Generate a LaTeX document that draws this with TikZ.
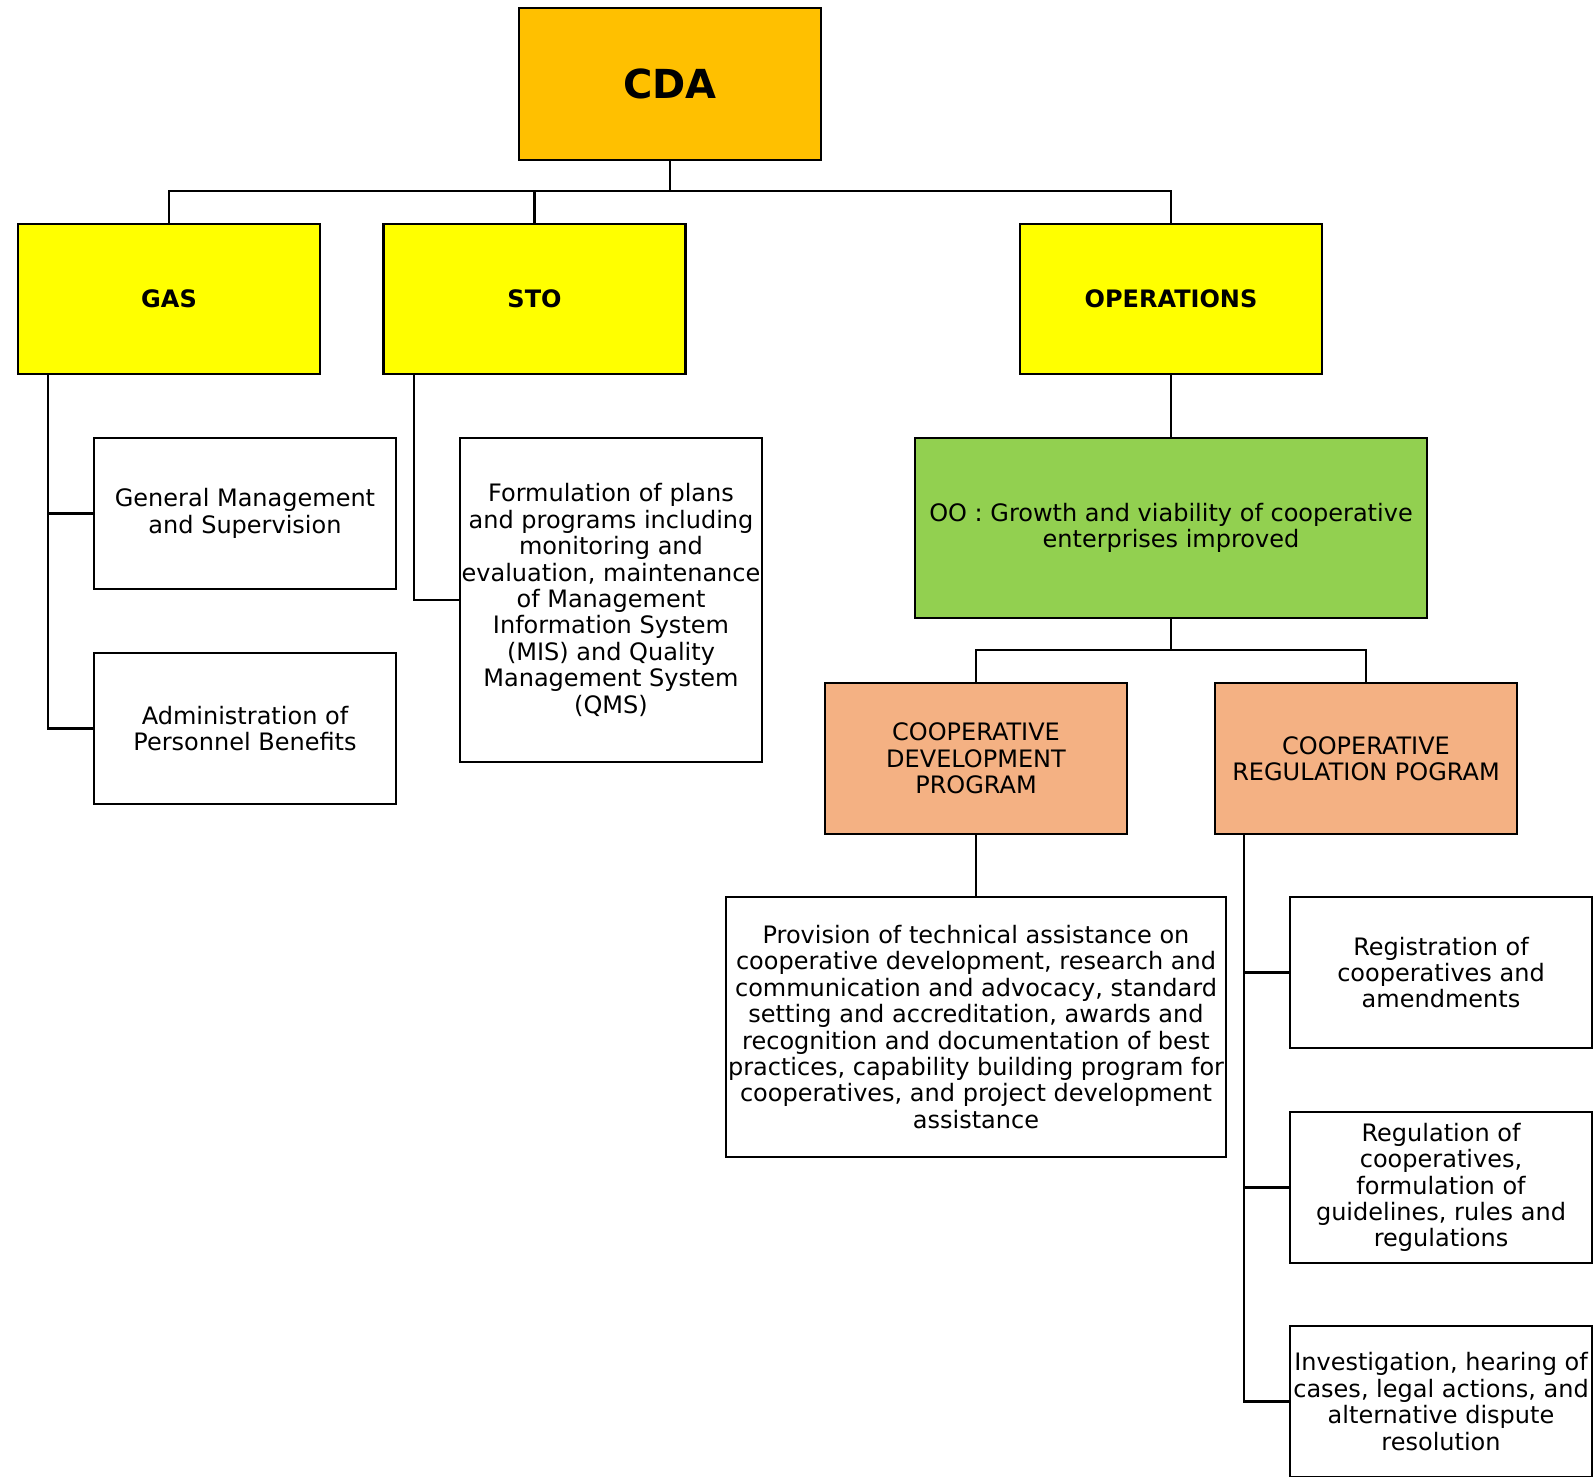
\documentclass[tikz,border=0pt]{standalone}
\usepackage{fontspec}
\setmainfont{DejaVu Sans}
\definecolor{cdaorange}{HTML}{FFC000}
\definecolor{unityellow}{HTML}{FFFF00}
\definecolor{oogreen}{HTML}{92D050}
\definecolor{progsalmon}{HTML}{F4B183}
\begin{document}
\begin{tikzpicture}[x=1pt,y=-1pt,
  box/.style={draw=black, line width=2.2pt, rectangle, inner sep=1pt, align=center,
    minimum width=302pt, minimum height=151pt,
    font=\fontsize{24}{26.4}\selectfont},
  boldbox/.style={box, font=\fontsize{24}{26.4}\selectfont\bfseries},
  link/.style={draw=black, line width=2.2pt}]
\useasboundingbox (0,0) rectangle (1595,1477);
% top
\node[boldbox, fill=cdaorange, minimum height=152pt, font=\fontsize{40}{44}\selectfont\bfseries] (cda) at (670,84) {CDA};
\node[boldbox, fill=unityellow, minimum height=150pt] (gas) at (169,299) {GAS};
\node[boldbox, fill=unityellow, minimum height=150pt] (sto) at (534.5,299) {STO};
\node[boldbox, fill=unityellow, minimum height=150pt] (ops) at (1171,299) {OPERATIONS};
% GAS children
\node[box] (gm) at (245,513.5) {General Management\\and Supervision};
\node[box] (adm) at (245,728.5) {Administration of\\Personnel Benefits};
% STO child
\node[box, minimum height=324pt] (form) at (611,600) {Formulation of plans\\and programs including\\monitoring and\\evaluation, maintenance\\of Management\\Information System\\(MIS) and Quality\\Management System\\(QMS)};
% Operations
\node[box, fill=oogreen, minimum width=512pt, minimum height=180pt] (oo) at (1171,528) {OO : Growth and viability of cooperative\\enterprises improved};
\node[box, fill=progsalmon] (cdp) at (976,758.5) {COOPERATIVE\\DEVELOPMENT\\PROGRAM};
\node[box, fill=progsalmon] (crp) at (1366,758.5) {COOPERATIVE\\REGULATION POGRAM};
\node[box, minimum width=500pt, minimum height=260pt] (prov) at (976,1027) {Provision of technical assistance on\\cooperative development, research and\\communication and advocacy, standard\\setting and accreditation, awards and\\recognition and documentation of best\\practices, capability building program for\\cooperatives, and project development\\assistance};
\node[box] (reg) at (1441,972.5) {Registration of\\cooperatives and\\amendments};
\node[box] (regn) at (1441,1187.5) {Regulation of\\cooperatives,\\formulation of\\guidelines, rules and\\regulations};
\node[box] (inv) at (1441,1401.5) {Investigation, hearing of\\cases, legal actions, and\\alternative dispute\\resolution};
% helper coordinates
\coordinate (bar1) at (0,191);
\coordinate (bar2) at (0,650);
\coordinate (gast) at (48,0);
\coordinate (stot) at (414,0);
\coordinate (crpt) at (1244,0);
% connectors
\draw[link] (cda.south) -- (cda.south |- bar1) -| (gas.north);
\draw[link] (cda.south |- bar1) -| (sto.north);
\draw[link] (cda.south |- bar1) -| (ops.north);
\draw[link] (gast |- gas.south) |- (adm.west);
\draw[link] (gast |- gm.west) -- (gm.west);
\draw[link] (stot |- sto.south) |- (form.west);
\draw[link] (ops.south) -- (ops.south |- oo.north);
\draw[link] (oo.south) -- (oo.south |- bar2) -| (cdp.north);
\draw[link] (oo.south |- bar2) -| (crp.north);
\draw[link] (cdp.south) -- (prov.north);
\draw[link] (crpt |- crp.south) |- (inv.west);
\draw[link] (crpt |- reg.west) -- (reg.west);
\draw[link] (crpt |- regn.west) -- (regn.west);
\end{tikzpicture}
\end{document}
